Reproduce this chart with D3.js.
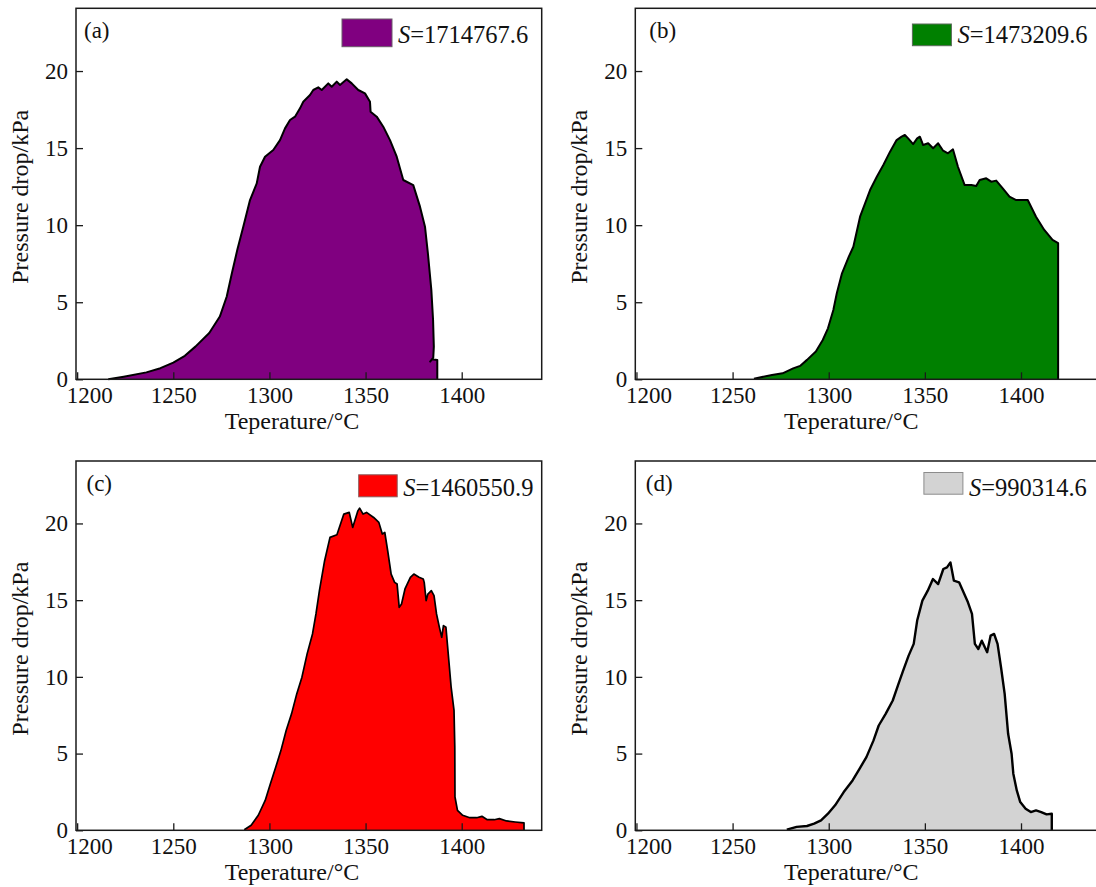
<!DOCTYPE html>
<html>
<head>
<meta charset="utf-8">
<script src="https://cdn.jsdelivr.net/npm/d3@7"></script>
<style>
  html, body { margin: 0; padding: 0; background: #fff; }
  svg { display: block; }
  text { font-family: "Liberation Serif", "Times New Roman", serif; fill: #111; }
</style>
</head>
<body>
<svg id="chart" width="1096" height="887"></svg>
<script>
// Temperature (°C) and pressure drop (kPa) traces, one pair per panel
const tempA = [1216.2, 1224.2, 1236, 1243.3, 1250, 1256, 1261.5, 1268.7, 1274.2, 1277.8, 1280.5, 1283.3, 1286.4, 1289.9, 1293.4, 1295.1, 1297.7, 1302, 1305.5, 1308.1, 1310.7, 1313.3, 1315.9, 1317.6, 1321.1, 1322.8, 1325.4, 1327.2, 1330.6, 1332.4, 1335, 1336.7, 1340.2, 1342.8, 1346.2, 1349.7, 1352.3, 1352.6, 1355.8, 1359.2, 1362.7, 1366.2, 1369.6, 1374.8, 1378.3, 1380.9, 1382.4, 1384.2, 1385.1, 1385.5, 1385.2, 1383.6, 1384.5, 1387.3, 1387.3];
const dropA = [0, 0.17, 0.45, 0.72, 1.08, 1.52, 2.12, 3.0, 4.07, 5.37, 6.9, 8.4, 9.9, 11.63, 12.71, 13.79, 14.44, 14.88, 15.52, 16.28, 16.82, 17.04, 17.58, 18.01, 18.44, 18.77, 18.94, 18.77, 19.2, 18.98, 19.31, 19.09, 19.46, 19.2, 18.77, 18.55, 18.01, 17.36, 17.04, 16.39, 15.52, 14.44, 12.93, 12.6, 11.2, 9.9, 8.19, 5.8, 3.86, 2.12, 1.4, 1.15, 1.3, 1.25, 0];

const tempB = [1261.1, 1270.5, 1276, 1281.5, 1285.1, 1288.7, 1293.3, 1296.9, 1299.6, 1302.4, 1304.2, 1306.9, 1310.5, 1312.8, 1316.3, 1321.5, 1325, 1328.4, 1331.9, 1335.3, 1337.9, 1339.6, 1341.3, 1343.9, 1346, 1347.4, 1349.1, 1351.7, 1354.3, 1356.9, 1359.5, 1362, 1364.6, 1367.2, 1370.7, 1374.2, 1376.7, 1378.5, 1381.9, 1384.5, 1387.1, 1390.5, 1394, 1397.5, 1403.5, 1407.8, 1412.1, 1416.4, 1419.3, 1419.3];
const dropB = [0.04, 0.28, 0.39, 0.71, 0.87, 1.26, 1.8, 2.55, 3.31, 4.5, 5.58, 6.88, 7.97, 8.6, 10.55, 12.28, 13.14, 13.9, 14.77, 15.52, 15.74, 15.85, 15.63, 15.26, 15.63, 15.74, 15.2, 15.31, 14.99, 15.31, 14.83, 14.66, 14.92, 13.79, 12.6, 12.6, 12.54, 12.93, 13.04, 12.82, 12.89, 12.39, 11.85, 11.63, 11.63, 10.55, 9.69, 9.04, 8.83, 0];

const tempC = [1286.9, 1290.5, 1294.2, 1297.8, 1300.5, 1303.3, 1306, 1308.7, 1311.5, 1314.2, 1316.9, 1319.6, 1322.4, 1324.2, 1326, 1328.7, 1331.5, 1335.1, 1338.7, 1341.5, 1343.3, 1346, 1346.9, 1348.7, 1350.5, 1354.2, 1356.9, 1358.7, 1360, 1361.5, 1363.3, 1365.1, 1366.4, 1367.5, 1368.7, 1370.5, 1373.3, 1375.1, 1377.8, 1380, 1380.5, 1381.5, 1382.4, 1384.2, 1385.6, 1386.9, 1388.4, 1389.6, 1390.5, 1391.8, 1393.3, 1394.5, 1396, 1396.4, 1396.5, 1397.8, 1400.5, 1404.2, 1407.8, 1410.5, 1413.3, 1416.9, 1419.6, 1423.3, 1427.8, 1432.4, 1432.4];
const dropC = [0.04, 0.33, 0.98, 1.95, 3.04, 4.12, 5.21, 6.51, 7.59, 8.89, 9.98, 11.5, 12.8, 14.1, 15.62, 17.57, 19.09, 19.26, 20.61, 20.72, 19.74, 20.82, 21.0, 20.61, 20.72, 20.39, 20.07, 19.31, 19.41, 18.22, 16.7, 16.16, 16.05, 14.53, 14.75, 15.73, 16.49, 16.7, 16.49, 16.38, 16.16, 14.97, 15.4, 15.62, 15.29, 14.1, 13.23, 12.58, 13.34, 13.23, 11.06, 9.33, 7.81, 5.42, 2.17, 1.3, 0.98, 0.82, 0.82, 0.91, 0.69, 0.69, 0.76, 0.61, 0.54, 0.48, 0];

const tempD = [1278.2, 1283.3, 1288.7, 1292.4, 1296, 1299.6, 1303.3, 1307.8, 1312.4, 1316, 1319.6, 1323.3, 1326, 1329.6, 1333.3, 1336, 1338.7, 1341.5, 1344.2, 1346, 1348.7, 1351.5, 1354.2, 1356.9, 1359.6, 1361.5, 1363.3, 1365.1, 1367.8, 1370.5, 1372.4, 1374.5, 1376, 1377.8, 1379.6, 1382.4, 1384.2, 1386, 1387.8, 1389.6, 1391.5, 1393.3, 1395.1, 1396, 1397.8, 1399.6, 1402.4, 1405.1, 1407.8, 1410.5, 1413.3, 1416, 1416];
const dropD = [0.04, 0.22, 0.28, 0.43, 0.65, 1.08, 1.63, 2.49, 3.25, 4.01, 4.77, 5.86, 6.83, 7.59, 8.46, 9.44, 10.41, 11.37, 12.15, 13.67, 14.97, 15.62, 16.38, 16.05, 17.03, 17.14, 17.46, 16.27, 16.16, 15.4, 14.86, 14.1, 12.15, 11.82, 12.36, 11.61, 12.69, 12.8, 12.15, 10.63, 8.89, 6.29, 4.99, 3.69, 2.6, 1.84, 1.41, 1.19, 1.3, 1.19, 1.04, 1.08, 0];

const panelTags = ["(a)", "(b)", "(c)", "(d)"];
const areaValues = ["1714767.6", "1473209.6", "1460550.9", "990314.6"];
const xTicks = [1200, 1250, 1300, 1350, 1400];
const yTicks = [0, 5, 10, 15, 20];
const xDomain = [1199.4, 1441.6];
const yDomain = [0, 24.07];
const xTitle = "Teperature/°C";
const yTitle = "Pressure drop/kPa";

// Panel fills and frame geometry
const fills = ["#800080", "#008000", "#ff0000", "#d3d3d3"];
const swatchEdge = ["#6a5a6a", "#5a6a5a", "#8a5a5a", "#8c8c8c"];
const lineWidth = [2, 2, 1.7, 2.4];
const colLeft = [76, 635.3];
const rowTop = [8.3, 461];
const plotW = 465.7;
const plotH = [371, 369.3];
// swatch box per panel: [offset from right edge, width, top offset, height]
const swatchBox = [[-199.7, 50, 10.7, 27.7], [-188.6, 39, 15.7, 21.7], [-183, 38.5, 13.8, 22], [-177.1, 39, 11.5, 21.7]];
const tagOffset = [8, 14, 10.5, 10.5];

const series = [[tempA, dropA], [tempB, dropB], [tempC, dropC], [tempD, dropD]];

const svg = d3.select("#chart");

series.forEach(([temps, drops], i) => {
  const col = i % 2, row = Math.floor(i / 2);
  const left = colLeft[col], top = rowTop[row];
  const h = plotH[row];
  const right = left + plotW, bottom = top + h;

  const x = d3.scaleLinear().domain(xDomain).range([left, right]);
  const y = d3.scaleLinear().domain(yDomain).range([bottom, top]);

  const pts = temps.map((t, k) => [t, drops[k]]);

  const g = svg.append("g");

  // filled trace
  g.append("path")
    .datum(pts)
    .attr("fill", fills[i])
    .attr("d", d3.area().x(d => x(d[0])).y0(y(0)).y1(d => y(d[1])));

  g.append("path")
    .datum(pts)
    .attr("fill", "none")
    .attr("stroke", "#000")
    .attr("stroke-width", lineWidth[i])
    .attr("stroke-linejoin", "round")
    .attr("d", d3.line().x(d => x(d[0])).y(d => y(d[1])));

  // frame
  g.append("rect")
    .attr("x", left).attr("y", top)
    .attr("width", plotW).attr("height", h)
    .attr("fill", "none").attr("stroke", "#1a1a1a").attr("stroke-width", 1.5);

  // axes with inward ticks
  const xAxis = g.append("g")
    .attr("transform", `translate(0,${bottom})`)
    .call(d3.axisBottom(x).tickValues(xTicks).tickSizeInner(-7).tickSizeOuter(0).tickPadding(7.7).tickFormat(d3.format("d")));
  xAxis.select(".domain").remove();
  xAxis.selectAll("line").attr("stroke", "#1a1a1a").attr("stroke-width", 1.3);
  xAxis.selectAll("text").attr("font-size", 23).attr("font-family", "Liberation Serif").attr("fill", "#111");
  // first label sits slightly right, clear of the "0" on the y axis
  xAxis.selectAll(".tick text").filter(d => d === xTicks[0]).attr("dx", 12);

  const yAxis = g.append("g")
    .attr("transform", `translate(${left},0)`)
    .call(d3.axisLeft(y).tickValues(yTicks).tickSizeInner(-7).tickSizeOuter(0).tickPadding(8).tickFormat(d3.format("d")));
  yAxis.select(".domain").remove();
  yAxis.selectAll("line").attr("stroke", "#1a1a1a").attr("stroke-width", 1.3);
  yAxis.selectAll("text").attr("font-size", 23).attr("font-family", "Liberation Serif").attr("fill", "#111");

  // axis titles
  g.append("text")
    .attr("x", left + 216).attr("y", bottom + 49.5)
    .attr("text-anchor", "middle").attr("font-size", 24)
    .text(xTitle);

  g.append("text")
    .attr("transform", `translate(${left - 48},${top + h / 2 + 3}) rotate(-90)`)
    .attr("text-anchor", "middle").attr("font-size", 24)
    .text(yTitle);

  // panel tag
  g.append("text")
    .attr("x", left + tagOffset[i]).attr("y", top + 29.5)
    .attr("font-size", 23)
    .text(panelTags[i]);

  // legend swatch and area value
  const [sx, sw, sy, sh] = swatchBox[i];
  g.append("rect")
    .attr("x", right + sx).attr("y", top + sy)
    .attr("width", sw).attr("height", sh)
    .attr("fill", fills[i]).attr("stroke", swatchEdge[i]).attr("stroke-width", 1);

  const lt = g.append("text")
    .attr("x", right + sx + sw + 6).attr("y", top + 34.5)
    .attr("font-size", 24.5);
  lt.append("tspan").attr("font-style", "italic").text("S");
  lt.append("tspan").text("=" + areaValues[i]);
});
</script>
</body>
</html>
